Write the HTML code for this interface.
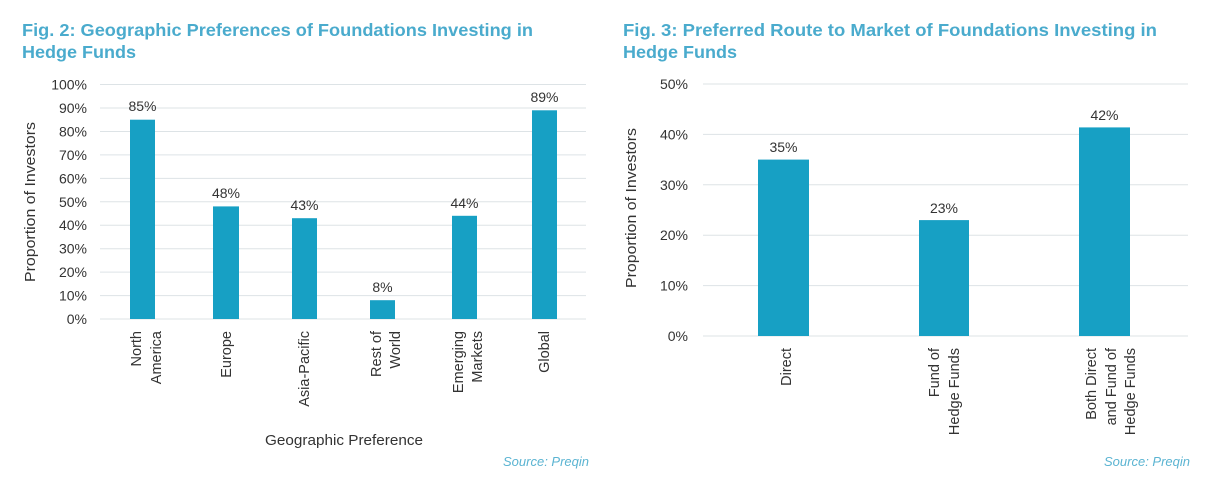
<!DOCTYPE html>
<html><head><meta charset="utf-8"><style>
html,body{margin:0;padding:0;background:#fff;}
svg{display:block;font-family:"Liberation Sans",sans-serif;}
.t{fill:#4aabcd;font-weight:bold;font-size:17.5px;}
.k{fill:#333;font-size:14px;}
.c{fill:#333;font-size:14.5px;}
.s{fill:#5bb4d2;font-size:13px;font-style:italic;}
.g{stroke:#dde3e6;stroke-width:1;}
.b{fill:#17a0c4;}
</style></head><body>
<svg width="1209" height="494" viewBox="0 0 1209 494" xmlns="http://www.w3.org/2000/svg">
<!-- Left chart -->
<text class="t" x="22" y="36" textLength="511" lengthAdjust="spacingAndGlyphs">Fig. 2: Geographic Preferences of Foundations Investing in</text>
<text class="t" x="22" y="58" textLength="114" lengthAdjust="spacingAndGlyphs">Hedge Funds</text>
<g class="g">
<line x1="100" x2="586" y1="84.5" y2="84.5"/><line x1="100" x2="586" y1="108" y2="108"/>
<line x1="100" x2="586" y1="131.5" y2="131.5"/><line x1="100" x2="586" y1="154.9" y2="154.9"/>
<line x1="100" x2="586" y1="178.4" y2="178.4"/><line x1="100" x2="586" y1="201.8" y2="201.8"/>
<line x1="100" x2="586" y1="225.2" y2="225.2"/><line x1="100" x2="586" y1="248.7" y2="248.7"/>
<line x1="100" x2="586" y1="272.1" y2="272.1"/><line x1="100" x2="586" y1="295.6" y2="295.6"/>
<line x1="100" x2="586" y1="319" y2="319"/>
</g>
<g class="k" text-anchor="end">
<text x="87" y="89.5">100%</text><text x="87" y="113">90%</text><text x="87" y="136.5">80%</text>
<text x="87" y="160">70%</text><text x="87" y="183.4">60%</text><text x="87" y="206.8">50%</text>
<text x="87" y="230.2">40%</text><text x="87" y="253.7">30%</text><text x="87" y="277.1">20%</text>
<text x="87" y="300.6">10%</text><text x="87" y="324">0%</text>
</g>
<text class="c" transform="translate(35,202) rotate(-90)" text-anchor="middle" textLength="160" lengthAdjust="spacingAndGlyphs">Proportion of Investors</text>
<rect class="b" x="130" y="119.7" width="25" height="199.3"/>
<rect class="b" x="213" y="206.4" width="26" height="112.6"/>
<rect class="b" x="292" y="218.2" width="25" height="100.8"/>
<rect class="b" x="370" y="300.2" width="25" height="18.8"/>
<rect class="b" x="452" y="215.8" width="25" height="103.2"/>
<rect class="b" x="532" y="110.3" width="25" height="208.7"/>
<g class="k" text-anchor="middle">
<text x="142.5" y="111">85%</text><text x="226" y="198">48%</text><text x="304.5" y="210">43%</text>
<text x="382.5" y="292">8%</text><text x="464.5" y="208">44%</text><text x="544.5" y="102">89%</text>
</g>
<g class="c" text-anchor="end">
<text transform="translate(141,331) rotate(-90)">North</text>
<text transform="translate(161,331) rotate(-90)">America</text>
<text transform="translate(231,331) rotate(-90)">Europe</text>
<text transform="translate(309,331) rotate(-90)">Asia-Pacific</text>
<text transform="translate(381,331) rotate(-90)">Rest of</text>
<text transform="translate(400,331) rotate(-90)">World</text>
<text transform="translate(463,331) rotate(-90)">Emerging</text>
<text transform="translate(482,331) rotate(-90)">Markets</text>
<text transform="translate(549,331) rotate(-90)">Global</text>
</g>
<text class="c" x="344" y="445" text-anchor="middle" textLength="158" lengthAdjust="spacingAndGlyphs">Geographic Preference</text>
<text class="s" x="589" y="466" text-anchor="end">Source: Preqin</text>

<!-- Right chart -->
<text class="t" x="623" y="36" textLength="534" lengthAdjust="spacingAndGlyphs">Fig. 3: Preferred Route to Market of Foundations Investing in</text>
<text class="t" x="623" y="58" textLength="114" lengthAdjust="spacingAndGlyphs">Hedge Funds</text>
<g class="g">
<line x1="703" x2="1188" y1="84" y2="84"/><line x1="703" x2="1188" y1="134.4" y2="134.4"/>
<line x1="703" x2="1188" y1="184.8" y2="184.8"/><line x1="703" x2="1188" y1="235.2" y2="235.2"/>
<line x1="703" x2="1188" y1="285.6" y2="285.6"/><line x1="703" x2="1188" y1="336" y2="336"/>
</g>
<g class="k" text-anchor="end">
<text x="688" y="89">50%</text><text x="688" y="139.4">40%</text><text x="688" y="189.8">30%</text>
<text x="688" y="240.2">20%</text><text x="688" y="290.6">10%</text><text x="688" y="341">0%</text>
</g>
<text class="c" transform="translate(636,208) rotate(-90)" text-anchor="middle" textLength="160" lengthAdjust="spacingAndGlyphs">Proportion of Investors</text>
<rect class="b" x="758" y="159.6" width="51" height="176.4"/>
<rect class="b" x="919" y="220.1" width="50" height="115.9"/>
<rect class="b" x="1079" y="127.4" width="51" height="208.6"/>
<g class="k" text-anchor="middle">
<text x="783.5" y="152">35%</text><text x="944" y="213">23%</text><text x="1104.5" y="120">42%</text>
</g>
<g class="c" text-anchor="end">
<text transform="translate(791,348) rotate(-90)">Direct</text>
<text transform="translate(939,348) rotate(-90)">Fund of</text>
<text transform="translate(959,348) rotate(-90)">Hedge Funds</text>
<text transform="translate(1096,348) rotate(-90)">Both Direct</text>
<text transform="translate(1116,348) rotate(-90)">and Fund of</text>
<text transform="translate(1135,348) rotate(-90)">Hedge Funds</text>
</g>
<text class="s" x="1190" y="466" text-anchor="end">Source: Preqin</text>
</svg>
</body></html>
